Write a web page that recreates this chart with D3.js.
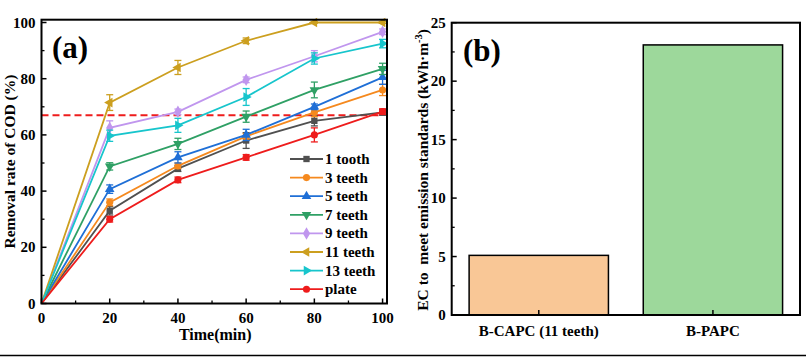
<!DOCTYPE html>
<html><head><meta charset="utf-8">
<script src="https://cdn.jsdelivr.net/npm/d3@7"></script>
<style>
html,body{margin:0;padding:0;background:#fff;}
svg{display:block;font-family:"Liberation Serif","Times New Roman",serif;font-weight:bold;}
</style></head>
<body>
<svg id="chart" width="806" height="357"></svg>
<script>
// ---- data ----
const timeMin = [0, 20, 40, 60, 80, 100];
const seriesNames = ["1 tooth", "3 teeth", "5 teeth", "7 teeth", "9 teeth", "11 teeth", "13 teeth", "plate"];
const tooth1  = [0, 33.0, 48.0, 58.0, 65.0, 68.0];
const teeth3  = [0, 36.0, 49.0, 59.5, 68.0, 76.0];
const teeth5  = [0, 40.7, 52.0, 60.0, 70.0, 80.5];
const teeth7  = [0, 48.8, 56.8, 66.5, 76.0, 83.5];
const teeth9  = [0, 62.5, 68.2, 79.6, 88.0, 96.7];
const teeth11 = [0, 71.5, 84.0, 93.5, 100.0, 100.0];
const teeth13 = [0, 59.7, 63.4, 73.5, 87.2, 92.5];
const plate   = [0, 30.0, 44.0, 52.0, 60.0, 68.3];
const err1  = [0, 1.5, 1.0, 2.8, 1.8, 1.0];
const err3  = [0, 1.2, 1.0, 1.0, 1.5, 2.0];
const err5  = [0, 1.5, 2.0, 2.0, 1.0, 2.5];
const err7  = [0, 1.3, 2.0, 2.0, 2.8, 2.0];
const err9  = [0, 2.5, 1.0, 1.0, 2.0, 1.0];
const err11 = [0, 2.8, 2.5, 1.0, 0.3, 0.3];
const err13 = [0, 2.0, 2.5, 3.0, 2.0, 1.5];
const errPlate = [0, 1.0, 1.0, 1.0, 2.5, 1.0];
const thresholdCOD = 67;
const xTicksA = [0, 20, 40, 60, 80, 100];
const yTicksA = [0, 20, 40, 60, 80, 100];

const barCategories = ["B-CAPC (11 teeth)", "B-PAPC"];
const barValues = [5.1, 23.1];
const yTicksB = [0, 5, 10, 15, 20, 25];

// ---- styles ----
const seriesValues = [tooth1, teeth3, teeth5, teeth7, teeth9, teeth11, teeth13, plate];
const seriesErrors = [err1, err3, err5, err7, err9, err11, err13, errPlate];
const seriesColors = ["#505050", "#f5891e", "#1f6fd6", "#2fa065", "#c096ee", "#cc9f1f", "#17c5cc", "#ee1c1c"];
const seriesShapes = [
  {t: d3.symbolSquare, r: 0}, {t: d3.symbolCircle, r: 0}, {t: d3.symbolTriangle, r: 0},
  {t: d3.symbolTriangle, r: 180}, {t: d3.symbolDiamond, r: 0}, {t: d3.symbolTriangle, r: -90},
  {t: d3.symbolTriangle, r: 90}, {t: d3.symbolCircle, r: 0}
];
const barColors = ["#f9c796", "#9dd89b"];

const svg = d3.select("#chart");

// ================= Panel (a) =================
const A = {l: 41.5, r: 387, t: 19.7, b: 303.5};
const xA = d3.scaleLinear().domain([0, 101.3]).range([A.l, A.r]);
const yA = d3.scaleLinear().domain([0, 101]).range([A.b, A.t]);
const gA = svg.append("g");

// ticks (inward)
const minorA = d3.range(10, 100, 20);
gA.selectAll(".xt").data(xTicksA).join("line")
  .attr("x1", d => xA(d)).attr("x2", d => xA(d)).attr("y1", A.b).attr("y2", A.b - 5)
  .attr("stroke", "#000").attr("stroke-width", 1.5);
gA.selectAll(".xm").data(minorA).join("line")
  .attr("x1", d => xA(d)).attr("x2", d => xA(d)).attr("y1", A.b).attr("y2", A.b - 3)
  .attr("stroke", "#000").attr("stroke-width", 1.3);
gA.selectAll(".yt").data(yTicksA).join("line")
  .attr("y1", d => yA(d)).attr("y2", d => yA(d)).attr("x1", A.l).attr("x2", A.l + 5)
  .attr("stroke", "#000").attr("stroke-width", 1.5);
gA.selectAll(".ym").data(minorA).join("line")
  .attr("y1", d => yA(d)).attr("y2", d => yA(d)).attr("x1", A.l).attr("x2", A.l + 3)
  .attr("stroke", "#000").attr("stroke-width", 1.3);

// tick labels
gA.selectAll(".xl").data(xTicksA).join("text")
  .attr("x", d => xA(d)).attr("y", 323).attr("text-anchor", "middle")
  .attr("font-size", 15).text(d => d);
gA.selectAll(".yl").data(yTicksA).join("text")
  .attr("x", A.l - 6).attr("y", d => yA(d) + 5).attr("text-anchor", "end")
  .attr("font-size", 15).text(d => d);

// axis titles
gA.append("text").attr("x", (A.l + A.r) / 2 + 1).attr("y", 340).attr("text-anchor", "middle")
  .attr("font-size", 16).text("Time(min)");
gA.append("text").attr("transform", `translate(14.5,${(A.t + A.b) / 2}) rotate(-90)`)
  .attr("text-anchor", "middle").attr("font-size", 15.5).text("Removal rate of COD (%)");

// threshold dashed line
gA.append("line").attr("x1", xA(0)).attr("x2", xA(100))
  .attr("y1", yA(thresholdCOD)).attr("y2", yA(thresholdCOD))
  .attr("stroke", "#ee1c1c").attr("stroke-width", 2).attr("stroke-dasharray", "7,4");

// series
const line = d3.line().x((d, i) => xA(timeMin[i])).y(d => yA(d));
seriesValues.forEach((vals, s) => {
  const c = seriesColors[s];
  const g = gA.append("g");
  g.append("path").datum(vals).attr("d", line).attr("fill", "none")
    .attr("stroke", c).attr("stroke-width", 1.8);
  // error bars
  vals.forEach((v, i) => {
    const e = seriesErrors[s][i];
    if (e <= 0) return;
    const x = xA(timeMin[i]);
    g.append("line").attr("x1", x).attr("x2", x).attr("y1", yA(v - e)).attr("y2", yA(v + e))
      .attr("stroke", c).attr("stroke-width", 1.3);
    [v - e, v + e].forEach(w => {
      g.append("line").attr("x1", x - 3.5).attr("x2", x + 3.5).attr("y1", yA(w)).attr("y2", yA(w))
        .attr("stroke", c).attr("stroke-width", 1.3);
    });
  });
  // markers
  const sh = seriesShapes[s];
  const sym = d3.symbol().type(sh.t).size(sh.t === d3.symbolDiamond ? 45 : 40);
  g.selectAll("path.m").data(vals.slice(1)).join("path").attr("class", "m")
    .attr("d", sym)
    .attr("transform", (d, i) => `translate(${xA(timeMin[i + 1])},${yA(d)}) rotate(${sh.r})`)
    .attr("fill", c);
});

// legend
const lg = gA.append("g");
seriesNames.forEach((n, s) => {
  const y = 159 + s * 18.6;
  const c = seriesColors[s];
  lg.append("line").attr("x1", 290).attr("x2", 323).attr("y1", y).attr("y2", y)
    .attr("stroke", c).attr("stroke-width", 1.8);
  const sh = seriesShapes[s];
  lg.append("path").attr("d", d3.symbol().type(sh.t).size(sh.t === d3.symbolDiamond ? 45 : 40))
    .attr("transform", `translate(306.5,${y}) rotate(${sh.r})`).attr("fill", c);
  lg.append("text").attr("x", 325).attr("y", y + 5).attr("font-size", 15).text(n);
});

// frame
gA.append("rect").attr("x", A.l).attr("y", A.t).attr("width", A.r - A.l).attr("height", A.b - A.t)
  .attr("fill", "none").attr("stroke", "#000").attr("stroke-width", 2);
gA.append("text").attr("x", 52).attr("y", 58).attr("font-size", 31).text("(a)");

// ================= Panel (b) =================
const B = {l: 451.7, r: 800, t: 22.7, b: 315};
const xB = d3.scaleBand().domain(barCategories).range([B.l, B.r]).paddingInner(0.2).paddingOuter(0.1);
const yB = d3.scaleLinear().domain([0, 25]).range([B.b, B.t]);
const gB = svg.append("g");

gB.selectAll("rect.bar").data(barValues).join("rect").attr("class", "bar")
  .attr("x", (d, i) => xB(barCategories[i])).attr("width", xB.bandwidth())
  .attr("y", d => yB(d)).attr("height", d => yB(0) - yB(d))
  .attr("fill", (d, i) => barColors[i]).attr("stroke", "#000").attr("stroke-width", 1.5);

const minorB = d3.range(2.5, 25, 5);
gB.selectAll(".yt").data(yTicksB).join("line")
  .attr("y1", d => yB(d)).attr("y2", d => yB(d)).attr("x1", B.l).attr("x2", B.l + 5)
  .attr("stroke", "#000").attr("stroke-width", 1.5);
gB.selectAll(".ym").data(minorB).join("line")
  .attr("y1", d => yB(d)).attr("y2", d => yB(d)).attr("x1", B.l).attr("x2", B.l + 3)
  .attr("stroke", "#000").attr("stroke-width", 1.3);
gB.selectAll(".xt").data(barCategories).join("line")
  .attr("x1", d => xB(d) + xB.bandwidth() / 2).attr("x2", d => xB(d) + xB.bandwidth() / 2)
  .attr("y1", B.b).attr("y2", B.b - 5).attr("stroke", "#000").attr("stroke-width", 1.5);

gB.selectAll(".yl").data(yTicksB).join("text")
  .attr("x", B.l - 6).attr("y", d => yB(d) + 5).attr("text-anchor", "end")
  .attr("font-size", 15).text(d => d);
gB.selectAll(".xl").data(barCategories).join("text")
  .attr("x", d => xB(d) + xB.bandwidth() / 2).attr("y", 336).attr("text-anchor", "middle")
  .attr("font-size", 15).text(d => d);

const yt = gB.append("text").attr("transform", `translate(427.5,${(B.t + B.b) / 2 + 1}) rotate(-90)`)
  .attr("text-anchor", "middle").attr("font-size", 15.5).attr("xml:space", "preserve");
yt.append("tspan").text("EC to\u00a0\u00a0meet emission standards (kWh\u00b7m");
yt.append("tspan").attr("font-size", 10.5).attr("dy", -6).text("-3");
yt.append("tspan").attr("dy", 6).text(")");

gB.append("rect").attr("x", B.l).attr("y", B.t).attr("width", B.r - B.l).attr("height", B.b - B.t)
  .attr("fill", "none").attr("stroke", "#000").attr("stroke-width", 2);
gB.append("text").attr("x", 463).attr("y", 61).attr("font-size", 31).text("(b)");

// bottom rule
svg.append("line").attr("x1", 0).attr("x2", 806).attr("y1", 355.5).attr("y2", 355.5)
  .attr("stroke", "#000").attr("stroke-width", 1.5);
</script>
</body></html>
